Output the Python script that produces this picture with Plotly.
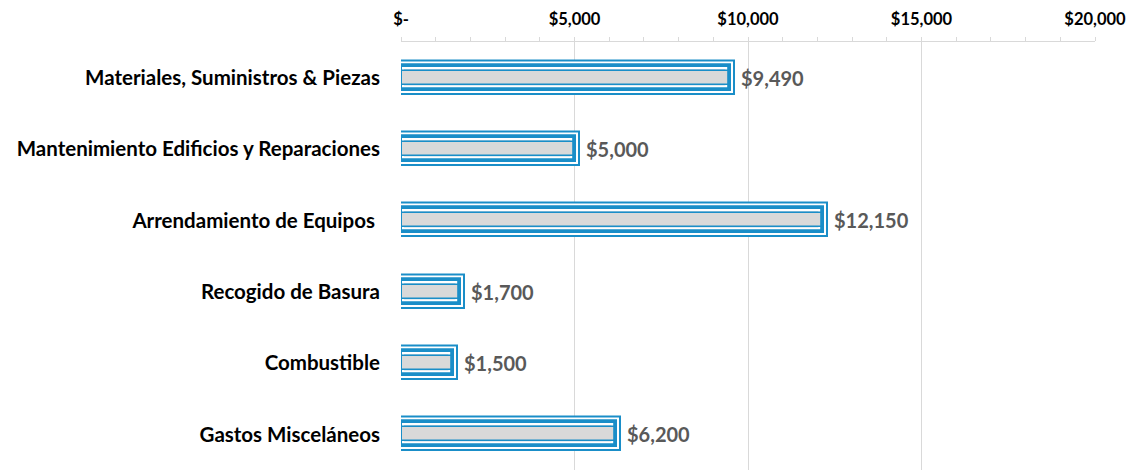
import plotly.graph_objects as go

# Expense categories and amounts (USD)
categories = [
    "Materiales, Suministros & Piezas",
    "Mantenimiento Edificios y Reparaciones",
    "Arrendamiento de Equipos ",
    "Recogido de Basura",
    "Combustible",
    "Gastos Misceláneos",
]
amounts = [9490, 5000, 12150, 1700, 1500, 6200]

tick_values = [0, 5000, 10000, 15000, 20000]
tick_labels = ["$-", "$5,000", "$10,000", "$15,000", "$20,000"]

BLUE = "#1a8ec8"
LIGHT = "#c4d9e4"
GRAY = "#d9d9d9"
FONT = "Lato"

fig = go.Figure()

# Compound outline built from stacked strokes around the same bar edge
layers = [
    dict(width=0.336, fill=BLUE, line=BLUE, lw=11.4),
    dict(width=0.336, fill=LIGHT, line="#ffffff", lw=7.6),
    dict(width=0.196, fill=GRAY, line=BLUE, lw=1.4),
    dict(width=0.336, fill="rgba(0,0,0,0)", line=BLUE, lw=3.8),
]
for layer in layers:
    fig.add_trace(go.Bar(
        x=amounts,
        y=categories,
        orientation="h",
        width=layer["width"],
        marker=dict(color=layer["fill"],
                    line=dict(color=layer["line"], width=layer["lw"])),
        hoverinfo="skip",
        showlegend=False,
    ))

# Value labels to the right of each bar
for cat, val in zip(categories, amounts):
    fig.add_annotation(
        x=val, y=cat, text=f"${val:,}", showarrow=False,
        xanchor="left", yanchor="middle", xshift=9,
        font=dict(family=FONT, size=20, color="#595959", weight="bold"),
    )

fig.update_layout(
    width=1136, height=470,
    margin=dict(l=401, r=41, t=42, b=0),
    paper_bgcolor="white", plot_bgcolor="white",
    barmode="overlay",
    bargap=0,
    font=dict(family=FONT, color="#000000"),
    xaxis=dict(
        side="top", range=[0, 20000],
        tickvals=tick_values, ticktext=tick_labels,
        tickfont=dict(family=FONT, size=16.5, color="#000000", weight="bold"),
        showgrid=True, gridcolor="#d9d9d9", gridwidth=1,
        showline=True, linecolor="#d9d9d9", linewidth=1,
        ticks="outside", ticklen=4, tickcolor="#d9d9d9",
        minor=dict(dtick=1000, ticks="outside", ticklen=4, tickcolor="#d9d9d9",
                   showgrid=False),
        ticklabelstandoff=5,
        zeroline=False, fixedrange=True,
    ),
    yaxis=dict(
        autorange="reversed",
        tickfont=dict(family=FONT, size=20.5, color="#000000", weight="bold"),
        showgrid=False, showline=False, ticks="",
        ticklabelstandoff=20,
        fixedrange=True,
    ),
)

fig.write_html("out.html")
